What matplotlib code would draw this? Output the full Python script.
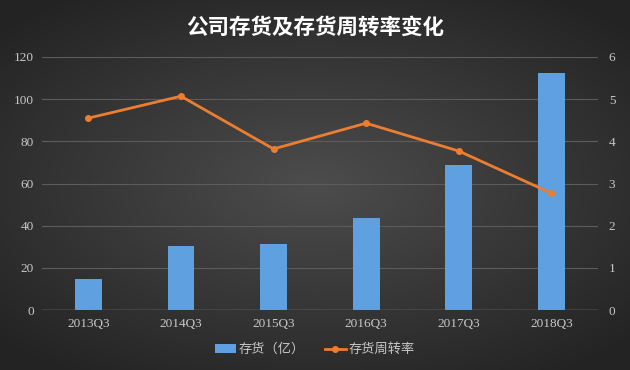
import numpy as np
import matplotlib
matplotlib.use('Agg')
import matplotlib.pyplot as plt

plt.rcParams['font.family'] = ['Noto Sans CJK SC', 'DejaVu Sans']

# data
quarters = ['2013Q3', '2014Q3', '2015Q3', '2016Q3', '2017Q3', '2018Q3']
inventory = [14.7, 30.4, 31.5, 43.6, 68.8, 112.4]      # 存货（亿）
turnover = [4.55, 5.07, 3.82, 4.43, 3.77, 2.77]        # 存货周转率

fig = plt.figure(figsize=(6.3, 3.7), dpi=100)

# radial dark-gray background
bg = fig.add_axes([0, 0, 1, 1])
yy, xx = np.mgrid[-1:1:370j, -1:1:630j]
r = np.sqrt((xx / 1.1) ** 2 + (yy / 1.0) ** 2)
shade = np.clip(0.30 - 0.13 * r, 0.14, 0.30)
bg.imshow(np.dstack([shade, shade, shade]), aspect='auto', extent=(0, 1, 0, 1))
bg.axis('off')

ax = fig.add_axes([0.0667, 0.162, 0.882, 0.684])
ax.patch.set_alpha(0)
x = np.arange(len(quarters))
ax.bar(x, inventory, width=0.29, color='#5fa0e0', zorder=2, label='存货（亿）')
ax.set_xlim(-0.5, len(quarters) - 0.5)
ax.set_ylim(0, 120)
ax.set_yticks(range(0, 121, 20))
ax.set_xticks(x)
ax.set_xticklabels(quarters)
ax.grid(axis='y', color='#5c5c5c', linewidth=0.8, zorder=0)
for s in ax.spines.values():
    s.set_visible(False)
ax.axhline(0, color='#8a8a8a', linewidth=1, zorder=3)
ax.tick_params(length=0, colors='#c8c8c8', labelsize=9.5, pad=6)
for lab in ax.get_xticklabels() + ax.get_yticklabels():
    lab.set_family('Liberation Serif')

ax2 = ax.twinx()
ax2.plot(x, turnover, color='#ed7d31', linewidth=2, marker='o', markersize=4,
         zorder=4, label='存货周转率')
ax2.set_ylim(0, 6)
ax2.set_yticks(range(0, 7))
for s in ax2.spines.values():
    s.set_visible(False)
ax2.tick_params(length=0, colors='#c8c8c8', labelsize=9.5, pad=8)
for lab in ax2.get_yticklabels():
    lab.set_family('Liberation Serif')

fig.text(0.5, 0.925, '公司存货及存货周转率变化', ha='center', va='center',
         color='white', fontsize=15.5, fontweight='bold')

h1, l1 = ax.get_legend_handles_labels()
h2, l2 = ax2.get_legend_handles_labels()
leg = fig.legend(h1 + h2, l1 + l2, loc='center', bbox_to_anchor=(0.5, 0.055),
                 ncol=2, frameon=False, fontsize=9.5, handlelength=1.6,
                 handletextpad=0.2, columnspacing=1.5)
for t in leg.get_texts():
    t.set_color('#c8c8c8')

fig.savefig('out.png', dpi=100)
